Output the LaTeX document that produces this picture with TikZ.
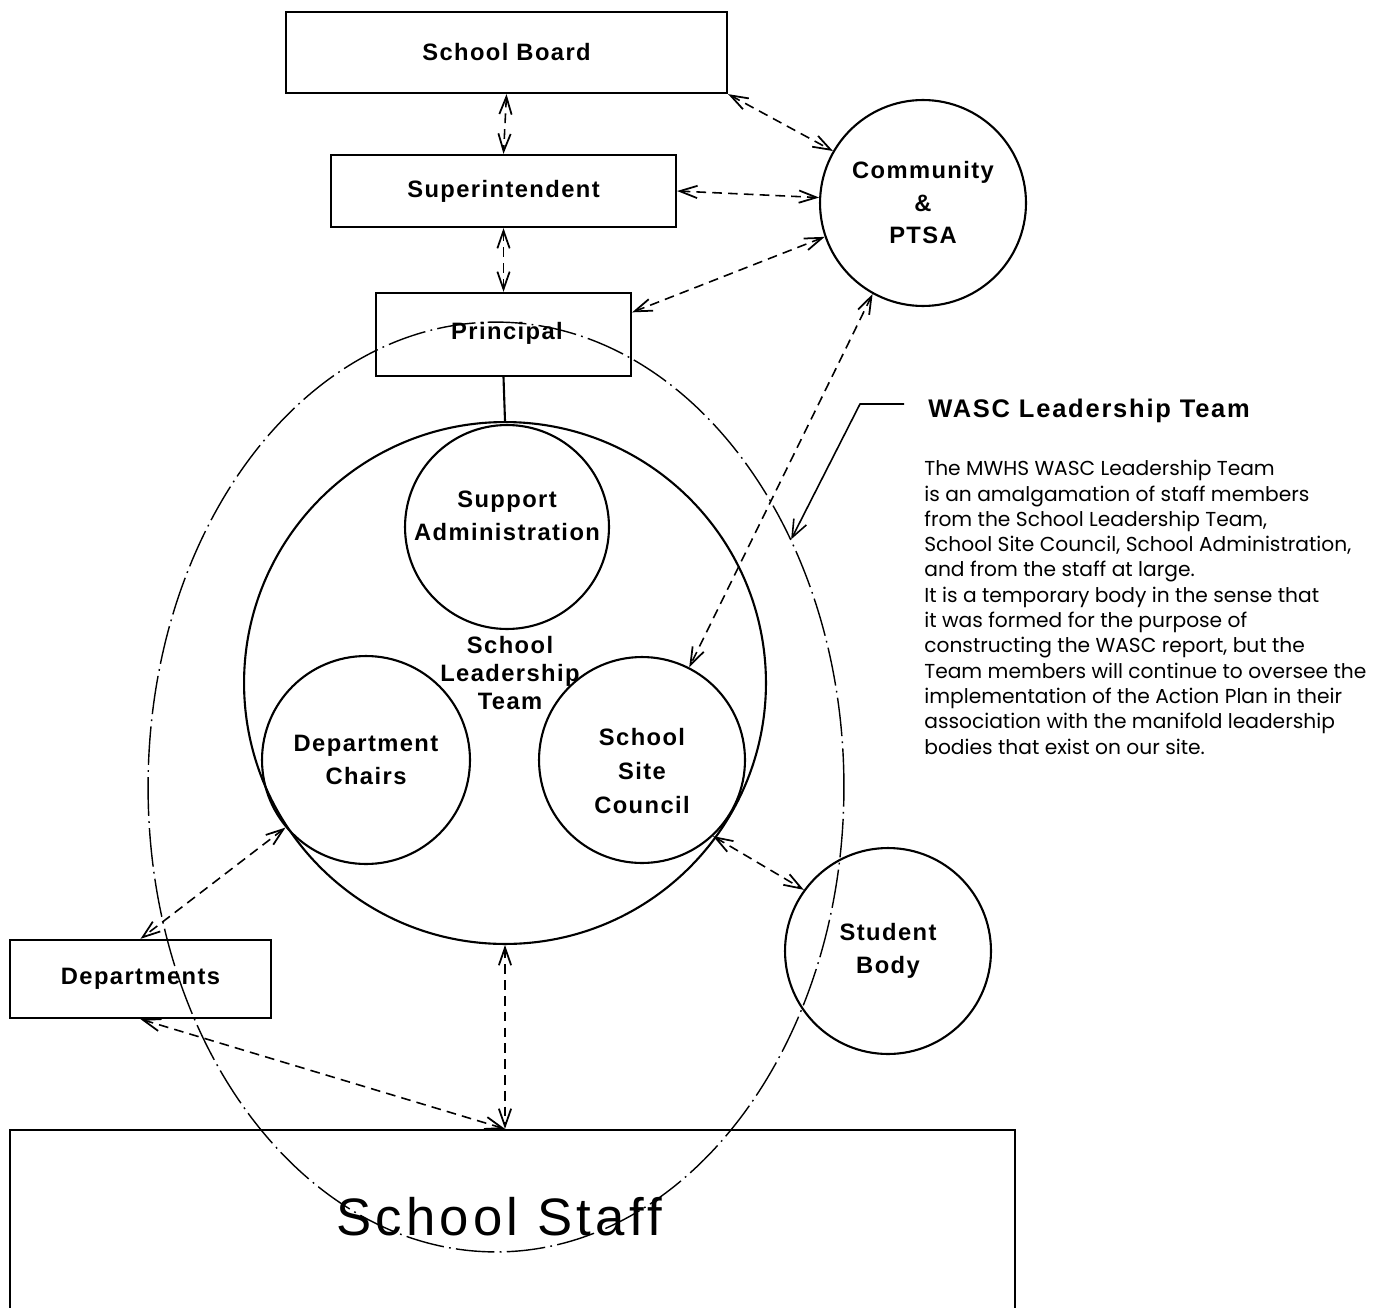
\documentclass[tikz,border=0pt]{standalone}
\usepackage{fontspec}
\setmainfont{Liberation Sans}
\newfontfamily\lblfont[LetterSpace=6]{Liberation Sans}
\newfontfamily\titlefont[LetterSpace=7]{Liberation Sans}
\newfontfamily\stafffont[LetterSpace=8]{Liberation Sans}
\newfontfamily\parafont{Poppins}
\usetikzlibrary{arrows.meta,shapes.geometric,calc}
\tikzset{
  lbl/.style={font=\lblfont\bfseries\fontsize{13.5}{18.5}\selectfont},
  boxnode/.style={draw, rectangle, line width=1.3pt, inner sep=0pt, lbl},
  circnode/.style={draw, circle, line width=1.2pt, inner sep=0pt, align=center, lbl},
  barb/.tip={Straight Barb[length=10pt,width=7pt,line width=1pt]},
  link/.style={line width=0.9pt, dash pattern=on 5.5pt off 3.5pt, barb-barb},
  wascline/.style={line width=0.8pt, dash pattern=on 22pt off 3pt on 1pt off 3pt},
}
\begin{document}
\begin{tikzpicture}[x=0.02cm,y=-0.02cm]
\useasboundingbox (0,0) rectangle (1381,1307);
\clip (0,0) rectangle (1381,1307);

% boxes
\node[boxnode, minimum width=8.82cm, minimum height=1.62cm] (board) at (506.5,52.5) {School Board};
\node[boxnode, minimum width=6.9cm, minimum height=1.44cm] (super) at (503.5,191) {Superintendent};
\node[boxnode, minimum width=5.1cm, minimum height=1.66cm] (prin) at (503.5,334.5) {};
\node[lbl] (printext) at (507,333) {Principal};
\node[boxnode, minimum width=5.22cm, minimum height=1.56cm] (dept) at (140.5,979) {Departments};
\node[draw, rectangle, line width=1.3pt, minimum width=20.1cm, minimum height=4.4cm] (staff) at (512.5,1240) {};
\node[font=\stafffont\fontsize{30}{36}\selectfont] (stafftext) at (499,1217) {School Staff};

% circles
\node[circnode, minimum size=4.12cm] (comm) at (923,203) {Community\\\&\\PTSA};
\node[circnode, minimum size=10.44cm] (big) at (505,683) {};
\node[lbl, align=center, font=\lblfont\bfseries\fontsize{13.5}{16}\selectfont] (slt) at (510,673) {School\\Leadership\\Team};
\node[circnode, minimum size=4.08cm] (support) at (507,527) {};
\node[lbl, align=center] (supporttext) at (507,516) {Support\\Administration};
\node[circnode, minimum size=4.16cm] (chairs) at (366,760) {Department\\Chairs};
\node[circnode, minimum size=4.12cm] (ssc) at (642,760) {};
\node[lbl, align=center, font=\lblfont\bfseries\fontsize{13.5}{19.5}\selectfont] (ssctext) at (642,771) {School\\Site\\Council};
\node[circnode, minimum size=4.12cm] (student) at (888,951) {Student\\Body};

% WASC ellipse
\node[draw, ellipse, wascline, minimum width=13.92cm, minimum height=18.6cm, inner sep=0pt] (wasc) at (496,787) {};

% connectors
\draw[link] (board.south) -- (super.north);
\draw[link] (super.south) -- (prin.north);
\draw[link] (board.south east) -- (comm.150);
\draw[link] (super.east) -- (comm.177);
\draw[link] ($(prin.north east)!0.24!(prin.south east)$) -- (comm.199.3);
\draw[link] (comm.241.6) -- (ssc.63.4);
\draw[line width=1.2pt] (prin.south) -- (big.north);
\draw[link] (ssc.313.5) -- (student.144.5);
\draw[link] (chairs.220) -- (dept.north);
\coordinate (staffTop) at (big.south |- staff.north);
\draw[link] (big.south) -- (staffTop);
\draw[link] (dept.south) -- (staffTop);

% WASC label and pointer
\coordinate (wa) at (904,404);
\coordinate (wb) at (860,404);
\draw[line width=0.9pt, -{Straight Barb[length=10pt,width=8pt]}] (wa) -- (wb) -- (wasc.40.5);
\node[anchor=base west, inner sep=0pt, font=\titlefont\bfseries\fontsize{14.5}{18}\selectfont] (wtitle) at (928,417) {WASC Leadership Team};
\node[anchor=north west, inner sep=0pt, align=left, font=\parafont\fontsize{11.5}{14.4}\selectfont] (wpara) at (924,460) {The MWHS WASC Leadership Team\\
is an amalgamation of staff members\\
from the School Leadership Team,\\
School Site Council, School Administration,\\
and from the staff at large.\\
It is a temporary body in the sense that\\
it was formed for the purpose of\\
constructing the WASC report, but the\\
Team members will continue to oversee the\\
implementation of the Action Plan in their\\
association with the manifold leadership\\
bodies that exist on our site.};
\end{tikzpicture}
\end{document}
